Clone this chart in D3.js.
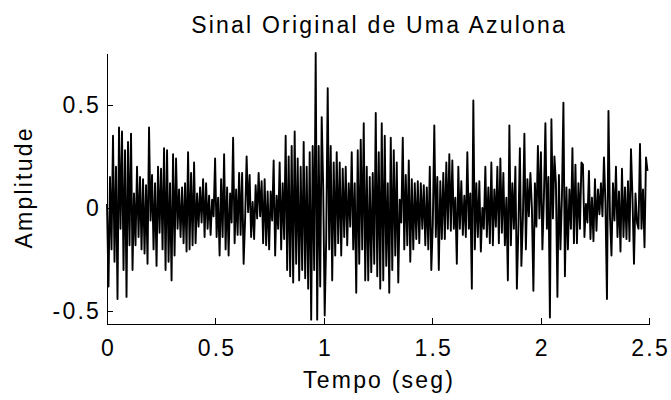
<!DOCTYPE html>
<html>
<head>
<meta charset="utf-8">
<script src="https://cdn.jsdelivr.net/npm/d3@7"></script>
<style>
    body { margin: 0; background: #fff; }
    text { font-family: "Liberation Sans", Arial, sans-serif; font-size: 23px; letter-spacing: 2.2px; fill: #000; }
</style>
</head>
<body>
<svg id="drawing_region"></svg>
<script>
const amplitude = [
    0.02, -0.38, 0.15, -0.2, 0.35, -0.26, 0.2, -0.44, 0.39, -0.1,
    0.37, -0.3, 0.28, -0.43, 0.32, -0.18, 0.36, -0.3, 0.07, -0.18,
    0.2, -0.14, 0.15, -0.2, 0.14, -0.22, 0.11, -0.27, 0.39, -0.06,
    0.16, -0.2, 0.12, -0.28, 0.2, -0.12, 0.19, -0.2, 0.29, -0.3,
    0.28, -0.26, 0.12, -0.35, 0.26,
    -0.23, 0.24, -0.1, 0.09, -0.14, 0.1, -0.17, 0.12, -0.21, 0.27,
    -0.2, 0.17, -0.18, 0.22, -0.17, 0.07, -0.09, 0.1, -0.07, 0.14,
    -0.14, 0.12, -0.1, 0.06, -0.13, 0.04, -0.04, 0.24, -0.14, 0.05,
    -0.23, 0.14, -0.14, 0.26, -0.2, 0.1, -0.23, 0.07, -0.07, 0.34,
    -0.17, 0.09, -0.13, 0.17, -0.13,
    0.17, -0.27, -0.05, 0.25, -0.02, 0.16, -0.14, 0.03, -0.15, 0.11,
    -0.05, 0.17, -0.04, 0.13, -0.17, 0.14, -0.18, 0.08, -0.2, 0.08,
    -0.06, 0.23, -0.23, 0.06, -0.1, 0.22, -0.2, 0.12, -0.15, 0.35,
    -0.3, 0.25, -0.33, 0.3, -0.36, 0.37, -0.27, 0.24, -0.35, 0.2,
    -0.3, 0.32, -0.34, 0.2, -0.39, 0.27,
    -0.54, 0.3, -0.3, 0.75, -0.54, 0.3, -0.38, 0.44, 0.1, -0.52,
    -0.15, 0.58, -0.2, 0.3, -0.35, 0.22, -0.23, 0.27, -0.17, 0.22,
    -0.23, 0.19, -0.14, 0.2, -0.18, 0.12, -0.09, 0.27, -0.2, 0.12,
    -0.41, 0.28, -0.27, 0.33, -0.2, 0.41, -0.35, 0.2, -0.35, 0.15,
    -0.31, 0.17, -0.27, 0.46, -0.33,
    0.27, -0.39, 0.41, -0.35, 0.35, -0.28, 0.12, -0.41, 0.34, -0.3,
    0.28, -0.23, 0.22, -0.36, 0.04, -0.07, 0.34, -0.2, 0.16, -0.18,
    0.23, -0.26, 0.14, -0.2, 0.12, -0.15, 0.13, -0.17, 0.12, -0.1,
    0.11, -0.18, 0.1, -0.2, 0.2, -0.3, -0.08, 0.4, -0.14, 0.15,
    -0.3, 0.13, -0.15, 0.17, -0.15, 0.22,
    -0.1, 0.26, -0.11, 0.23, -0.1, 0.05, -0.27, 0.2, -0.1, 0.13,
    -0.13, 0.06, -0.14, 0.27, -0.1, 0.07, -0.39, 0.52, -0.2, 0.12,
    -0.14, 0.13, -0.21, 0.0, -0.1, 0.2, -0.14, 0.1, -0.17, 0.22,
    -0.18, 0.09, -0.09, 0.2, -0.17, 0.24, -0.12, 0.17, -0.18, 0.05,
    -0.35, 0.4, -0.18, 0.12, -0.1,
    0.2, -0.39, -0.1, 0.29, -0.28, -0.05, 0.36, -0.2, 0.14, -0.04,
    0.17, 0.0, -0.4, 0.12, -0.09, 0.3, -0.05, 0.27, -0.2, 0.05,
    0.41, -0.1, 0.15, -0.53, 0.43, -0.05, 0.25, 0.12, -0.43, 0.16,
    -0.2, 0.05, 0.51, -0.33, 0.1, -0.2, 0.09, -0.1, 0.29, -0.17,
    0.21, -0.17, 0.12, -0.1, 0.22,
    0.21, -0.14, 0.02, -0.07, 0.18, -0.15, 0.05, -0.16, 0.14, -0.11,
    0.09, -0.03, 0.12, -0.04, 0.245, 0.02, -0.44, 0.47, -0.04, -0.23,
    0.12, -0.06, 0.2, -0.14, 0.08, -0.21, 0.19, -0.14, 0.1, -0.15,
    0.13, -0.16, 0.285, 0.05, -0.27, 0.07, -0.07, -0.1, 0.31, -0.1,
    0.09, -0.19, 0.245, 0.18
];
const sampleRate = 144.4;   // amostras por segundo
const xTicks = [0, 0.5, 1, 1.5, 2, 2.5];
const yTicks = [-0.5, 0, 0.5];
const xDomain = [0, 2.5];
const yDomain = [-0.561, 0.75];
const title = "Sinal Original de Uma Azulona";
const xLabel = "Tempo (seg)";
const yLabel = "Amplitude";

const config = {
    width: 671,
    height: 400,
    margin: {top: 53, right: 22, bottom: 76, left: 107}
};

const inner_width = config.width - config.margin.left - config.margin.right;
const inner_height = config.height - config.margin.top - config.margin.bottom;

const svg = d3.select('#drawing_region')
    .attr('width', config.width)
    .attr('height', config.height);

const chart = svg.append('g')
    .attr('transform', `translate(${config.margin.left}, ${config.margin.top})`);

const xscale = d3.scaleLinear()
    .domain(xDomain)
    .range([0, inner_width]);

const yscale = d3.scaleLinear()
    .domain(yDomain)
    .range([inner_height, 0]);

const line = d3.line()
    .x((d, i) => xscale(i / sampleRate))
    .y(d => yscale(d));

chart.append('path')
    .datum(amplitude)
    .attr('d', line)
    .attr('fill', 'none')
    .attr('stroke', '#000')
    .attr('stroke-width', 1.9)
    .attr('stroke-linejoin', 'round');

const xaxis = d3.axisBottom(xscale)
    .tickValues(xTicks)
    .tickFormat(d => String(d))
    .tickSizeInner(-6)
    .tickSizeOuter(0)
    .tickPadding(16);

const yaxis = d3.axisLeft(yscale)
    .tickValues(yTicks)
    .tickFormat(d => String(d))
    .tickSizeInner(-6)
    .tickSizeOuter(0)
    .tickPadding(6);

const xaxis_group = chart.append('g')
    .attr('transform', `translate(0, ${inner_height})`)
    .call(xaxis);

const yaxis_group = chart.append('g')
    .call(yaxis);

[xaxis_group, yaxis_group].forEach(g => {
    g.selectAll('path, line').attr('stroke', '#000').attr('shape-rendering', 'crispEdges');
    g.selectAll('text').attr('font-size', null).attr('font-family', null).attr('fill', '#000');
});
xaxis_group.selectAll('text').attr('dx', '1.1');

svg.append('text')
    .attr('x', config.margin.left + inner_width / 2 + 1.1)
    .attr('y', 33)
    .attr('text-anchor', 'middle')
    .text(title);

svg.append('text')
    .attr('x', config.margin.left + inner_width / 2 + 1.1)
    .attr('y', 388)
    .attr('text-anchor', 'middle')
    .text(xLabel);

svg.append('text')
    .attr('transform', `translate(32, ${config.margin.top + inner_height / 2 - 1.1}) rotate(-90)`)
    .attr('text-anchor', 'middle')
    .text(yLabel);
</script>
</body>
</html>
